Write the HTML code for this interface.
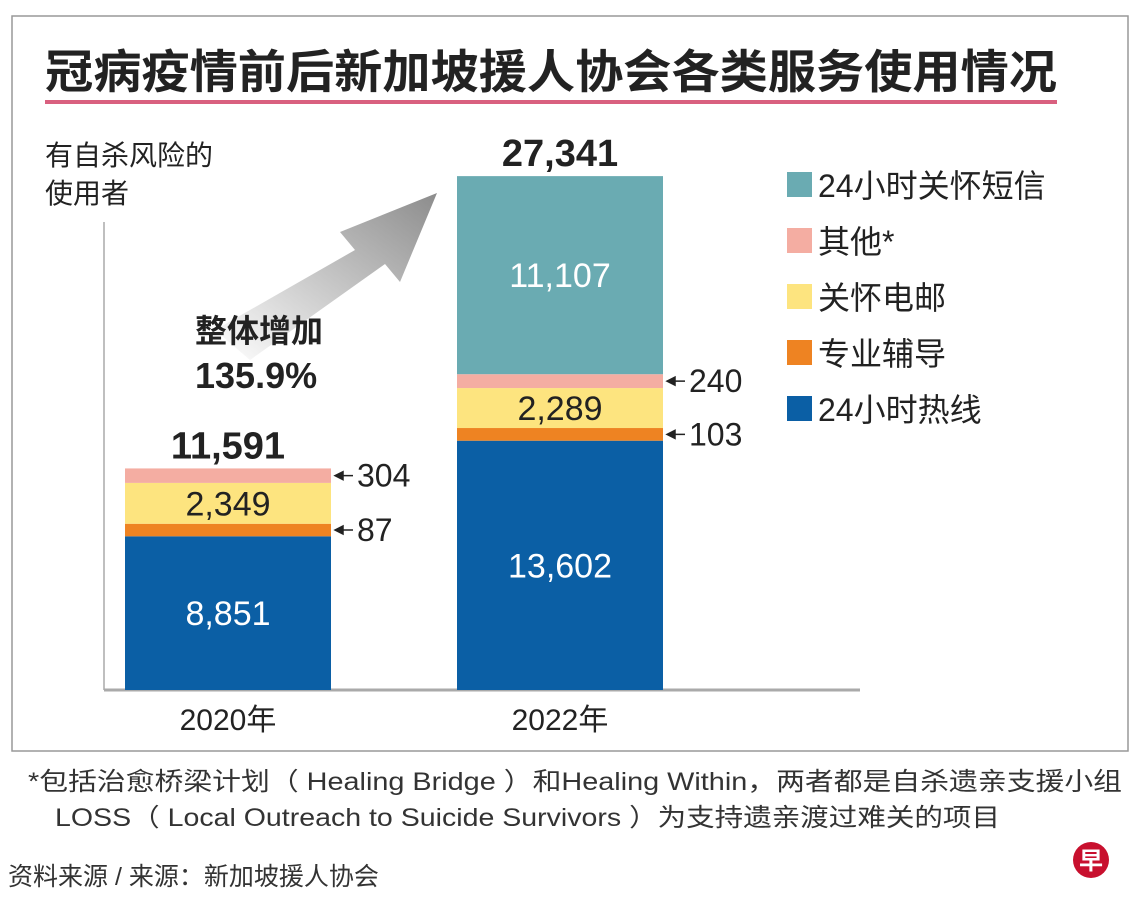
<!DOCTYPE html>
<html><head><meta charset="utf-8">
<style>
body{margin:0;background:#fff;}
svg{display:block;font-family:"Liberation Sans","Noto Sans CJK SC",sans-serif;}
</style></head>
<body>
<svg id="chart" width="1140" height="912" viewBox="0 0 1140 912">
<defs>
<linearGradient id="ag" x1="0" y1="1" x2="1" y2="0">
<stop offset="0" stop-color="#ffffff"/><stop offset="1" stop-color="#8c8c8c"/>
</linearGradient>
</defs>
<rect x="12" y="16" width="1116" height="735" fill="#fff" stroke="#999" stroke-width="1.5"/>
<text x="45" y="88" font-size="46" font-weight="bold" fill="#222" textLength="1012" lengthAdjust="spacingAndGlyphs">冠病疫情前后新加坡援人协会各类服务使用情况</text>
<rect x="45" y="100" width="1012" height="4" fill="#d9607f"/>
<text x="45" y="165" font-size="28" fill="#222">有自杀风险的</text>
<text x="45" y="203" font-size="28" fill="#222">使用者</text>
<line x1="104" y1="222" x2="104" y2="690" stroke="#aaa" stroke-width="1.5"/>
<line x1="104" y1="690" x2="860" y2="690" stroke="#aaa" stroke-width="3"/>
<polygon points="215,330 355,250 340,232 437,193 400,282 385,264 250,360" fill="url(#ag)"/>
<text x="195" y="342" font-size="32" font-weight="bold" fill="#222">整体增加</text>
<text x="195" y="388" font-size="36" font-weight="bold" fill="#222">135.9%</text>
<g id="bars"></g>
<g id="legend"></g>
<text x="28" y="790" font-size="25" fill="#333" textLength="1094" lengthAdjust="spacingAndGlyphs">*包括治愈桥梁计划（ Healing Bridge ）和Healing Within，两者都是自杀遗亲支援小组</text>
<text x="55" y="826" font-size="25" fill="#333" textLength="945" lengthAdjust="spacingAndGlyphs">LOSS（ Local Outreach to Suicide Survivors ）为支持遗亲渡过难关的项目</text>
<text x="8" y="885" font-size="25" fill="#333">资料来源 / 来源：新加坡援人协会</text>
<circle cx="1091" cy="860" r="18" fill="#c8102e"/>
<text x="1091" y="869" font-size="24" font-weight="bold" fill="#fff" text-anchor="middle">早</text>
</svg>
<script>
const years = ["2020年", "2022年"];
const seriesNames = ["24小时热线", "专业辅导", "关怀电邮", "其他*", "24小时关怀短信"];
const hotline = [8851, 13602];
const counselling = [87, 103];
const email = [2349, 2289];
const others = [304, 240];
const sms = [0, 11107];
const totalLabels = ["11,591", "27,341"];
const colors = ["#0b5fa5", "#ee8322", "#fde47f", "#f4ada2", "#6aabb2"];
const series = [hotline, counselling, email, others, sms];
const NS = "http://www.w3.org/2000/svg";
const baseY = 690, k = 0.0026, p = 1.2, c = 12;
const barX = [125, 457], barW = 206;
function segH(v){ return v > 0 ? k * Math.pow(v, p) + c : 0; }
function fmt(v){ return v.toLocaleString("en-US"); }
function mk(tag, attrs, parent){ const e = document.createElementNS(NS, tag); for (const a in attrs) e.setAttribute(a, attrs[a]); parent.appendChild(e); return e; }
const g = document.getElementById("bars");
years.forEach((yr, i) => {
  let y = baseY;
  series.forEach((s, j) => {
    const v = s[i]; if (!v) return;
    const h = segH(v);
    y -= h;
    const r = mk("rect", {x: barX[i], y: y, width: barW, height: h, fill: colors[j]}, g);
    
    
    const cx = barX[i] + barW / 2;
    if (v > 1000) {
      const t = mk("text", {x: cx, y: y + h / 2 + 12, "font-size": 34, "text-anchor": "middle", fill: (j === 2 ? "#222" : "#fff")}, g);
      t.textContent = fmt(v);
      
      
    } else {
      const my = y + h / 2;
      const ax = barX[i] + barW + 4;
      const a = mk("path", {d: `M${ax} ${my} l8 -4 v8 z M${ax+8} ${my} h10`, fill: "#222", stroke: "#222", "stroke-width": 1.5}, g);
      
      
      const t = mk("text", {x: ax + 22, y: my + 11, "font-size": 32, fill: "#222"}, g);
      t.textContent = fmt(v);
      
      
    }
  });
  const tt = mk("text", {x: barX[i] + barW / 2, y: y - 10, "font-size": 38, "font-weight": "bold", "text-anchor": "middle", fill: "#222"}, g);
  tt.textContent = totalLabels[i];
  
  
  const xl = mk("text", {x: barX[i] + barW / 2, y: 730, "font-size": 30, "text-anchor": "middle", fill: "#222"}, g);
  xl.textContent = yr;
  
  
});
const lg = document.getElementById("legend");
const order = [4, 3, 2, 1, 0];
order.forEach((j, r) => {
  const y = 172 + r * 56;
  const sw = mk("rect", {x: 787, y: y, width: 25, height: 25, fill: colors[j]}, lg);
  
  
  const t = mk("text", {x: 818, y: y + 25, "font-size": 32, fill: "#222"}, lg);
  t.textContent = seriesNames[j];
  
  
});
</script>
</body></html>
